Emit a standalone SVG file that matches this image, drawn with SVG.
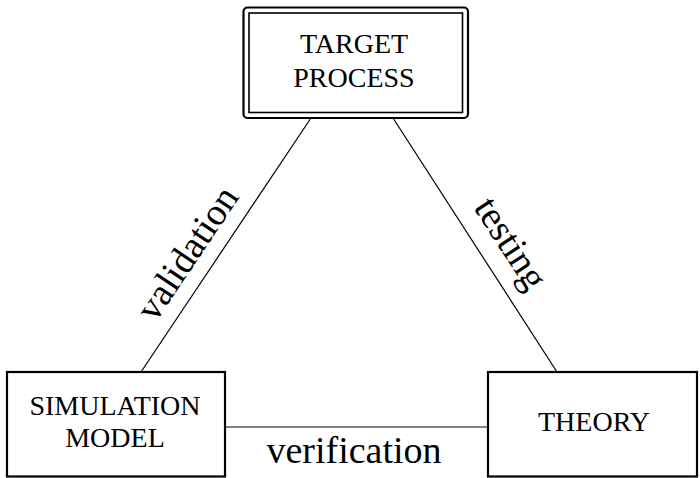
<svg xmlns="http://www.w3.org/2000/svg" width="700" height="478" viewBox="0 0 700 478">
  <style>
    .box { fill: #fff; stroke: #000; stroke-width: 2.2; }
    .inner { fill: none; stroke: #000; stroke-width: 1.6; }
    .edge { fill: none; stroke: #000; stroke-width: 1.2; }
    text { font-family: 'Liberation Serif', serif; fill: #000; text-anchor: middle; }
    .name { font-size: 28px; }
    .tag { font-size: 38px; }
  </style>
  <rect width="700" height="478" fill="#fff"/>

  <!-- connectors and their labels -->
  <g id="connectors">
    <line class="edge" x1="311" y1="118" x2="141" y2="372"/>
    <line class="edge" x1="393" y1="118" x2="557" y2="372"/>
    <line class="edge" x1="225" y1="427" x2="488" y2="427"/>
    <text class="tag" x="197.5" y="260" transform="rotate(-56.2 197.5 260)">validation</text>
    <text class="tag" x="500.5" y="250" transform="rotate(57 500.5 250)">testing</text>
    <text class="tag" x="354" y="463">verification</text>
  </g>

  <!-- target process: double border -->
  <g id="target">
    <rect class="box" x="243.5" y="7.5" width="224.5" height="110.5" rx="4"/>
    <rect class="inner" x="249" y="13" width="213.5" height="99.5"/>
    <text class="name" x="354" y="53">TARGET</text>
    <text class="name" x="354" y="87">PROCESS</text>
  </g>

  <g id="simulation">
    <rect class="box" x="7" y="372" width="218" height="104.5"/>
    <text class="name" x="115" y="415">SIMULATION</text>
    <text class="name" x="115" y="447">MODEL</text>
  </g>

  <g id="theory">
    <rect class="box" x="488" y="372" width="209" height="104.5"/>
    <text class="name" x="594" y="431">THEORY</text>
  </g>
</svg>
